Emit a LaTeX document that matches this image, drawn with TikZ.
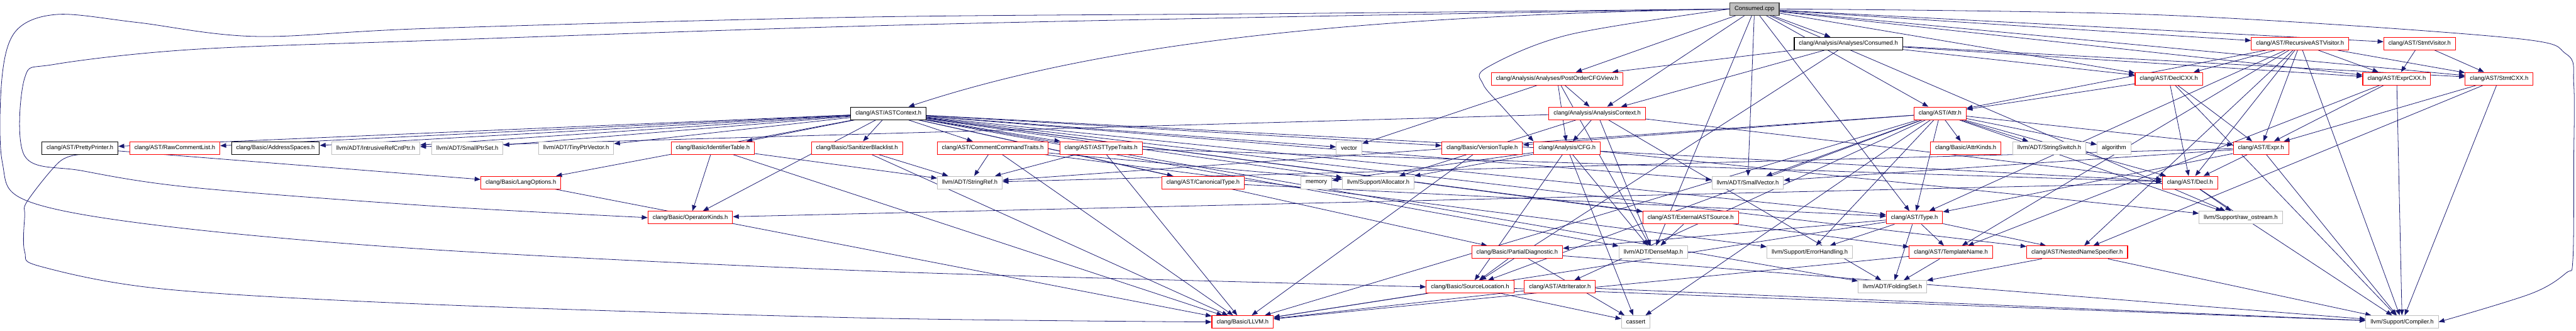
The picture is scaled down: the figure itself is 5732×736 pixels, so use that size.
\documentclass[tikz,border=0pt]{standalone}
\usepackage{fontspec}
\setmainfont{Liberation Sans}
\usetikzlibrary{arrows.meta}

\definecolor{incblue}{HTML}{191970}
\definecolor{boxred}{HTML}{FF0000}
\definecolor{boxgrey}{HTML}{BFBFBF}
\definecolor{boxdark}{HTML}{404040}

\pgfdeclarelayer{bg}
\pgfsetlayers{bg,main}

\begin{document}
\begin{tikzpicture}[x=1pt, y=1pt,
  hdr/.style={rectangle, draw, fill=white, line width=1.5pt,
    font=\fontsize{13.2}{15}\selectfont, inner xsep=10.5pt, inner ysep=0pt,
    minimum height=28pt},
  redhdr/.style={hdr, draw=boxred},
  exthdr/.style={hdr, draw=boxgrey},
  dochdr/.style={hdr, draw=black},
  roothdr/.style={hdr, draw=boxdark, fill=boxgrey},
  incl/.style={color=incblue, line width=1.1pt, -{Triangle[length=13pt, width=10pt]}}]

\useasboundingbox (0,0) rectangle (5732,736);

% 根文件
\node[roothdr] (cpp) at (3904,716) {Consumed.cpp};

% 第二层
\node[dochdr] (consumedh) at (4113,639) {clang/Analysis/Analyses/Consumed.h};
\node[redhdr] (rav) at (5118,639) {clang/AST/RecursiveASTVisitor.h};
\node[redhdr] (stmtvis) at (5384,639) {clang/AST/StmtVisitor.h};

% 第三层
\node[redhdr] (postorder) at (3465,561) {clang/Analysis/Analyses/PostOrderCFGView.h};
\node[redhdr] (declcxx) at (4826,561) {clang/AST/DeclCXX.h};
\node[redhdr] (exprcxx) at (5333,561) {clang/AST/ExprCXX.h};
\node[redhdr] (stmtcxx) at (5561,561) {clang/AST/StmtCXX.h};

% 第四层
\node[dochdr] (astctx) at (1977,484) {clang/AST/ASTContext.h};
\node[redhdr] (analysisctx) at (3554,484) {clang/Analysis/AnalysisContext.h};
\node[redhdr] (attr) at (4317,484) {clang/AST/Attr.h};

% 第五层
\node[dochdr] (prettyprinter) at (178,407) {clang/AST/PrettyPrinter.h};
\node[redhdr] (rawcomment) at (389,407) {clang/AST/RawCommentList.h};
\node[dochdr] (addrspaces) at (613,407) {clang/Basic/AddressSpaces.h};
\node[exthdr] (intrusive) at (836,407) {llvm/ADT/IntrusiveRefCntPtr.h};
\node[exthdr] (smallptrset) at (1040,407) {llvm/ADT/SmallPtrSet.h};
\node[exthdr] (tinyptr) at (1282,407) {llvm/ADT/TinyPtrVector.h};
\node[redhdr] (identtable) at (1586,407) {clang/Basic/IdentifierTable.h};
\node[redhdr] (sanitizer) at (1907,407) {clang/Basic/SanitizerBlacklist.h};
\node[redhdr] (commentcmd) at (2209,407) {clang/AST/CommentCommandTraits.h};
\node[redhdr] (asttypetraits) at (2450,407) {clang/AST/ASTTypeTraits.h};
\node[exthdr] (vector) at (3002,407) {vector};
\node[redhdr] (versiontuple) at (3298,407) {clang/Basic/VersionTuple.h};
\node[redhdr] (cfg) at (3487,407) {clang/Analysis/CFG.h};
\node[redhdr] (attrkinds) at (4374,407) {clang/Basic/AttrKinds.h};
\node[exthdr] (stringswitch) at (4560,407) {llvm/ADT/StringSwitch.h};
\node[exthdr] (algorithm) at (4704,407) {algorithm};
\node[redhdr] (expr) at (5031,407) {clang/AST/Expr.h};

% 第六层
\node[redhdr] (langopts) at (1159,330) {clang/Basic/LangOptions.h};
\node[exthdr] (stringref) at (2158,330) {llvm/ADT/StringRef.h};
\node[redhdr] (canonical) at (2677,330) {clang/AST/CanonicalType.h};
\node[exthdr] (memory) at (2929,330) {memory};
\node[exthdr] (allocator) at (3067,330) {llvm/Support/Allocator.h};
\node[exthdr] (smallvector) at (3889,330) {llvm/ADT/SmallVector.h};
\node[redhdr] (decl) at (4873,330) {clang/AST/Decl.h};

% 第七层
\node[redhdr] (opkinds) at (1536,252) {clang/Basic/OperatorKinds.h};
\node[redhdr] (externalast) at (3762,252) {clang/AST/ExternalASTSource.h};
\node[redhdr] (type) at (4260,252) {clang/AST/Type.h};
\node[exthdr] (rawostream) at (4986,252) {llvm/Support/raw\_ostream.h};

% 第八层
\node[redhdr] (partialdiag) at (3376,175) {clang/Basic/PartialDiagnostic.h};
\node[exthdr] (densemap) at (3679,175) {llvm/ADT/DenseMap.h};
\node[exthdr] (errorhandling) at (4027,175) {llvm/Support/ErrorHandling.h};
\node[redhdr] (templatename) at (4341,175) {clang/AST/TemplateName.h};
\node[redhdr] (nns) at (4622,175) {clang/AST/NestedNameSpecifier.h};

% 第九层
\node[redhdr] (sourceloc) at (3271,98) {clang/Basic/SourceLocation.h};
\node[redhdr] (attriter) at (3471,98) {clang/AST/AttrIterator.h};
\node[exthdr] (foldingset) at (4211,98) {llvm/ADT/FoldingSet.h};

% 最底层
\node[redhdr] (llvmh) at (2765,20) {clang/Basic/LLVM.h};
\node[exthdr] (cassert) at (3640,20) {cassert};
\node[exthdr] (compiler) at (5345,20) {llvm/Support/Compiler.h};

\begin{pgfonlayer}{bg}
% Consumed.cpp 的包含
\draw[incl] (cpp) edge (consumedh) edge (attr) edge (declcxx) edge (exprcxx)
  edge (rav) edge (stmtcxx) edge (stmtvis) edge (type) edge (postorder)
  edge (analysisctx) edge (densemap) edge (smallvector) edge (rawostream);
\draw[incl] (cpp.west) .. controls (3000,700) and (2450,640) .. (astctx);
\draw[incl] plot[smooth, tension=0.55] coordinates {(cpp.west) (3492,659)
  (3309,586) (3300,549) (3345,496) (cfg.north west)};
% 绕左边的长边
\draw[incl] plot[smooth, tension=0.55] coordinates {(cpp.west) (2880,706)
  (1920,698) (960,673) (569,655) (306,686) (129,704) (37,669) (5,569)
  (5,376) (61,289) (367,233) (960,181) (1920,134) (2880,106) (sourceloc.west)};
\draw[incl] plot[smooth, tension=0.55] coordinates {(cpp.west) (2880,699)
  (1920,678) (960,646) (429,626) (122,593) (55,563) (55,389) (184,356)
  (429,319) (960,278) (opkinds.west)};
\draw[incl] plot[smooth, tension=0.55] coordinates {(prettyprinter.south)
  (132,376) (61,289) (55,256) (55,176) (92,143) (367,93) (960,59)
  (1920,29) (llvmh.west)};
% 绕右边的长边
\draw[incl] plot[smooth, tension=0.55] coordinates {(cpp.east) (4800,703)
  (5573,653) (5710,616) (5727,549) (5727,376) (5725,159) (5710,129)
  (5632,83) (compiler.east)};

% 第二层的包含
\draw[incl] (consumedh) edge (postorder) edge (analysisctx) edge (sourceloc)
  edge (declcxx) edge (exprcxx) edge (stmtcxx);
\draw[incl] (rav) edge (attr) edge (decl) edge (declcxx) edge (expr)
  edge (exprcxx) edge (stmtcxx) edge (nns) edge (templatename) edge (type)
  edge (compiler);
\draw[incl] (stmtvis) edge (exprcxx) edge (stmtcxx);

% 第三层的包含
\draw[incl] (postorder) edge (vector) edge (cfg) edge (analysisctx) edge (densemap);
\draw[incl] (declcxx) edge (attr) edge (decl) edge (expr) edge (compiler);
\draw[incl] (exprcxx) edge (expr) edge (templatename) edge (compiler);
\draw[incl] (stmtcxx) edge (expr) edge (nns) edge (compiler);

% 第四层的包含
\draw[incl] (astctx) edge (prettyprinter) edge (rawcomment) edge (addrspaces)
  edge (intrusive) edge (smallptrset) edge (tinyptr) edge (identtable)
  edge (sanitizer) edge (commentcmd) edge (asttypetraits) edge (langopts)
  edge (opkinds) edge (canonical) edge (vector) edge (versiontuple)
  edge (allocator) edge (smallvector) edge (decl) edge (externalast)
  edge (type) edge (templatename) edge (nns) edge (partialdiag)
  edge (densemap) edge (foldingset);
\draw[incl] (analysisctx) edge (cfg) edge (decl) edge (densemap)
  edge (foldingset) edge (intrusive) edge (allocator);
\draw[incl] (attr) edge (attriter) edge (decl) edge (expr) edge (type)
  edge (attrkinds) edge (llvmh) edge (sourceloc) edge (versiontuple)
  edge (smallvector) edge (stringref) edge (stringswitch) edge (errorhandling)
  edge (rawostream) edge (algorithm) edge (cassert);

% 第五层的包含
\draw[incl] (prettyprinter) -- (langopts);
\draw[incl] (identtable) edge (llvmh) edge (stringref) edge (opkinds);
\draw[incl] (sanitizer) edge (llvmh) edge (stringref);
\draw[incl] (commentcmd) edge (llvmh) edge (stringref) edge (allocator)
  edge (errorhandling);
\draw[incl] (asttypetraits) edge (stringref) edge (llvmh) edge (decl);
\draw[incl] (versiontuple) -- (llvmh);
\draw[incl] (cfg) edge (sourceloc) edge (densemap) edge (allocator)
  edge (rawostream) edge (cassert) edge (memory);
\draw[incl] (expr) edge (decl) edge (type) edge (smallvector) edge (stringref)
  edge (compiler);

% 下面几层的包含
\draw[incl] (langopts) -- (llvmh);
\draw[incl] (canonical) -- (type);
\draw[incl] (decl) edge (rawostream) edge (compiler) edge (opkinds);
\draw[incl] (externalast) -- (densemap);
\draw[incl] (type) edge (errorhandling) edge (foldingset) edge (templatename)
  edge (nns) edge (llvmh) edge (partialdiag);
\draw[incl] (partialdiag) edge (sourceloc) edge (cassert) edge (compiler);
\draw[incl] (templatename) edge (foldingset) edge (llvmh);
\draw[incl] (nns) edge (foldingset) edge (compiler);
\draw[incl] (sourceloc) edge (llvmh) edge (cassert) edge (compiler);
\draw[incl] (attriter) edge (llvmh) edge (compiler);
\end{pgfonlayer}

\end{tikzpicture}
\end{document}
